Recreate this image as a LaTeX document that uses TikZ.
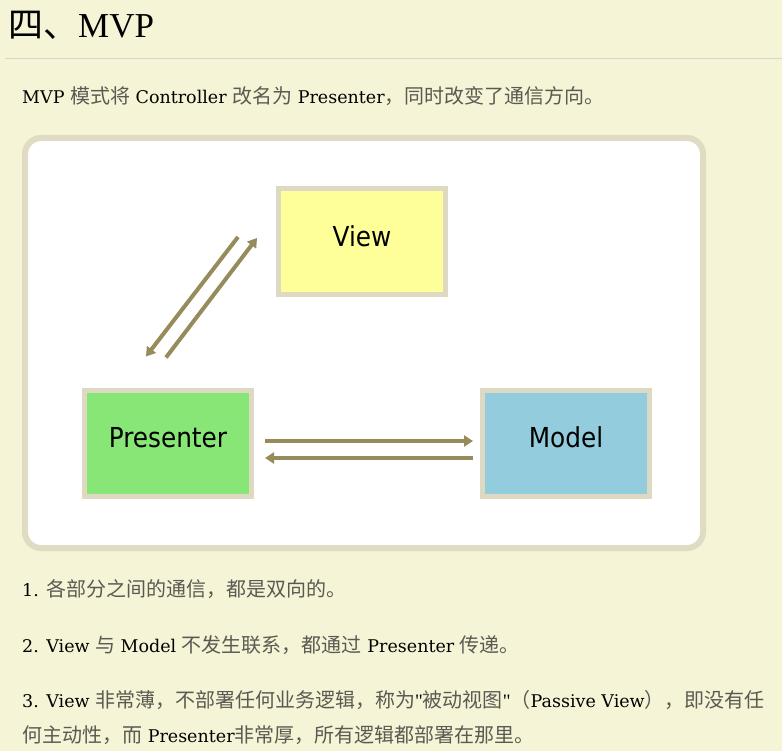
\documentclass[tikz,border=0pt]{standalone}
\usepackage{fontspec}
\setmainfont{DejaVu Serif}
\newfontfamily\titlefont{Liberation Serif}
\newfontfamily\quotefont[Ligatures=ResetAll]{Liberation Serif}
\newfontfamily\cjkfont{Noto Sans CJK SC}
\newfontfamily\labelfont{DejaVu Sans Condensed}
\usetikzlibrary{arrows.meta,calc}
\definecolor{pagebg}{HTML}{F5F4D6}
\definecolor{rulegray}{HTML}{D6D6D0}
\definecolor{zhgray}{HTML}{5A5A52}
\definecolor{frameborder}{HTML}{E0DCC4}
\definecolor{boxborder}{HTML}{DDD9C3}
\definecolor{viewfill}{HTML}{FFFF99}
\definecolor{presfill}{HTML}{88E677}
\definecolor{modelfill}{HTML}{93CDDD}
\definecolor{arrowcol}{HTML}{958B5B}
\newcommand{\zh}[1]{{\cjkfont\fontsize{20pt}{24pt}\selectfont\color{zhgray}#1}}
\newcommand{\zhtitle}[1]{{\cjkfont\fontsize{35pt}{40pt}\selectfont #1}}
\newcommand{\sq}{{\quotefont\fontsize{19pt}{20pt}\selectfont\symbol{34}}}
\tikzset{
  txt/.style={inner sep=0pt, anchor=base west, text=black, font=\fontsize{17.5pt}{20pt}\selectfont},
  mvpbox/.style={draw=boxborder, line width=5pt, minimum width=167pt, minimum height=106pt, inner sep=0pt},
  boxlabel/.style={inner sep=0pt, text=black, font=\labelfont\fontsize{27.5pt}{30pt}\selectfont},
  arr/.style={draw=arrowcol, line width=4pt, -{Triangle[length=9pt,width=11pt]}}
}
\begin{document}
\begin{tikzpicture}[x=1pt,y=-1pt]
\useasboundingbox (0,0) rectangle (782,751);
\fill[pagebg] (0,0) rectangle (782,751);
% title
\node[txt, font=\titlefont\fontsize{35pt}{40pt}\selectfont] (title) at (8,38) {\zhtitle{四、}MVP};
\coordinate (ruleL) at (5,58.5);
\coordinate (ruleR) at (782,58.5);
\draw[rulegray, line width=1pt] (ruleL) -- (ruleR);
% intro line
\node[txt] (intro) at (22,104) {MVP \zh{模式将} Controller \zh{改名为} Presenter\zh{，同时改变了通信方向。}};
% diagram frame
\node[draw=frameborder, fill=white, line width=6pt, rounded corners=16pt, minimum width=678pt, minimum height=410pt, inner sep=0pt] (frame) at (364,343) {};
% boxes
\node[mvpbox, fill=viewfill] (view) at (362,241.5) {};
\node[mvpbox, fill=presfill] (presenter) at (168,443) {};
\node[mvpbox, fill=modelfill] (model) at (566,443) {};
\node[boxlabel] (viewtxt) at ($(view)+(0,-5.5)$) {View};
\node[boxlabel] (prestxt) at ($(presenter)+(0,-5.5)$) {Presenter};
\node[boxlabel] (modeltxt) at ($(model)+(0,-5.5)$) {Model};
% arrows
\draw[arr] ($(presenter.east)+(11,-2)$) -- ($(model.west)+(-7,-2)$);
\draw[arr] ($(model.west)+(-7,15)$) -- ($(presenter.east)+(11,15)$);
\draw[arr] ($(view.west)+(-38,-4.5)$) -- ($(presenter.north)+(-22,-31)$);
\draw[arr] ($(presenter.north)+(-2,-30)$) -- ($(view.west)+(-19,-3.5)$);
% list
\node[txt] (p1) at (22,596) {1. \zh{各部分之间的通信，都是双向的。}};
\node[txt] (p2) at (22,652) {2. View \zh{与} Model \zh{不发生联系，都通过} Presenter \zh{传递。}};
\node[txt] (p3a) at (22,707.5) {3. View \zh{非常薄，不部署任何业务逻辑，称为}\sq\zh{被动视图}\sq\zh{（}Passive View\zh{），即没有任}};
\node[txt] (p3b) at (22,742.5) {\zh{何主动性，而} Presenter\zh{非常厚，所有逻辑都部署在那里。}};
\end{tikzpicture}
\end{document}
